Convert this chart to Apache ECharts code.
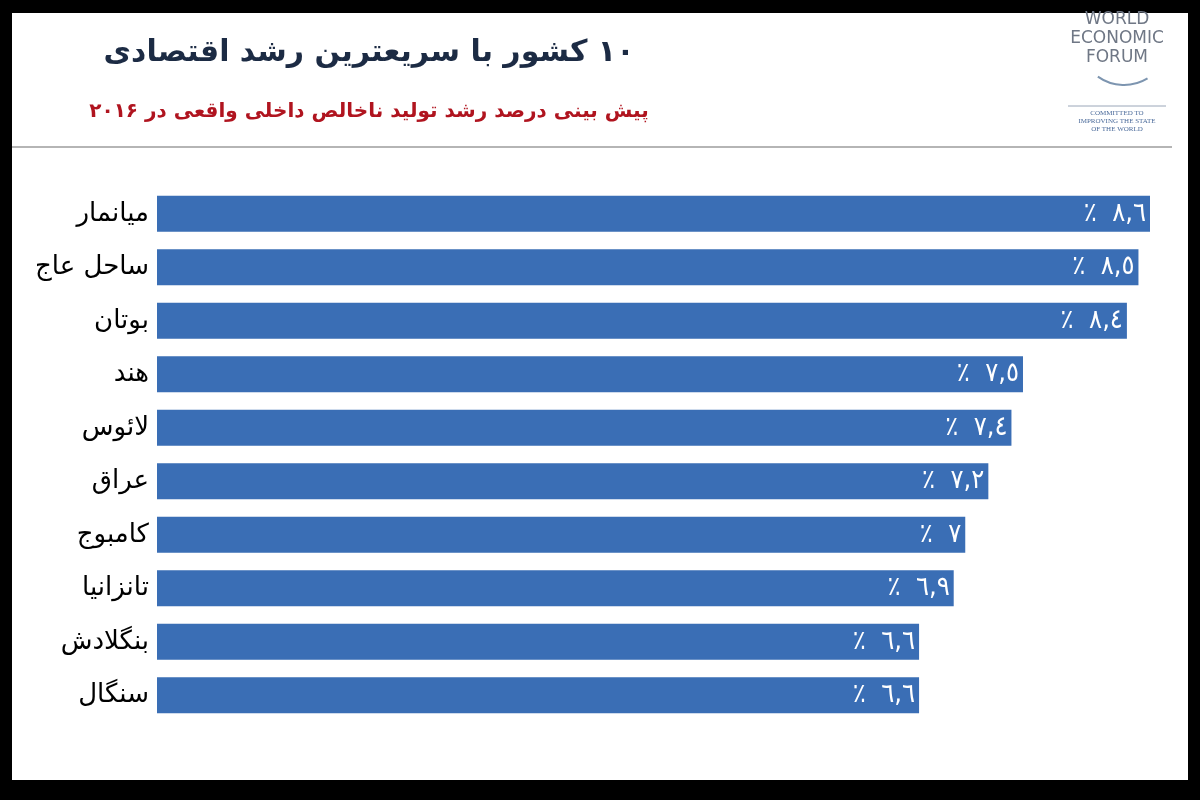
<!DOCTYPE html>
<html>
<head>
<meta charset="utf-8">
<script src="https://cdn.jsdelivr.net/npm/echarts@6/dist/echarts.min.js"></script>
<style>
html,body{margin:0;padding:0;background:#000;}
#chart{width:1200px;height:800px;}
</style>
</head>
<body>
<div id="chart" dir="rtl"></div>
<script>
const countries = ['میانمار','ساحل عاج','بوتان','هند','لائوس','عراق','کامبوج','تانزانیا','بنگلادش','سنگال'];
const growth = [8.6, 8.5, 8.4, 7.5, 7.4, 7.2, 7.0, 6.9, 6.6, 6.6];
const titleText = '۱۰ کشور با سریعترین رشد اقتصادی';
const subtitleText = 'پیش بینی درصد رشد تولید ناخالص داخلی واقعی در ۲۰۱۶';
const logoLines = ['WORLD','ECONOMIC','FORUM'];
const logoTagline = ['COMMITTED TO','IMPROVING THE STATE','OF THE WORLD'];

const arabicDigits = '٠١٢٣٤٥٦٧٨٩';
function toArabic(v){
  return String(v).replace(/[0-9]/g, d => arabicDigits[+d]).replace('.', ',');
}

const chart = echarts.init(document.getElementById('chart'), null, {renderer:'canvas'});
const FONT = '"DejaVu Sans", sans-serif';

const graphics = [
  {type:'rect', z:-10, shape:{x:12,y:13,width:1176,height:767}, style:{fill:'#ffffff'}},
  {type:'line', shape:{x1:12,y1:147,x2:1172,y2:147}, style:{stroke:'#b5b5b5', lineWidth:2}},
  {type:'text', x:369, y:53, style:{text:titleText, fill:'#1c2b44', font:'bold 30px ' + FONT, textAlign:'center', textVerticalAlign:'middle'}},
  {type:'text', x:369, y:112, style:{text:subtitleText, fill:'#b0141f', font:'bold 20px ' + FONT, textAlign:'center', textVerticalAlign:'middle'}},
  {type:'arc', shape:{cx:1124, cy:40, r:45, startAngle:Math.PI/2 - 0.55, endAngle:Math.PI/2 + 0.62}, style:{stroke:'#7d95b0', lineWidth:2, fill:null}},
  {type:'line', shape:{x1:1068,y1:106,x2:1166,y2:106}, style:{stroke:'#9aa6b8', lineWidth:1}}
];
logoLines.forEach((t,i)=>{
  graphics.push({type:'text', x:1117, y:20 + i*19, style:{text:t, fill:'#6f7785', font:'17px ' + FONT, textAlign:'center', textVerticalAlign:'middle'}});
});
logoTagline.forEach((t,i)=>{
  graphics.push({type:'text', x:1117, y:113 + i*8, style:{text:t, fill:'#4a6a9a', font:'7px "Liberation Serif", serif', textAlign:'center', textVerticalAlign:'middle'}});
});

chart.setOption({
  backgroundColor:'#000000',
  animation:false,
  grid:{left:157, right:50, top:187, height:535, containLabel:false},
  xAxis:{type:'value', min:0, max:8.6, show:false},
  yAxis:{
    type:'category', data:countries, inverse:true,
    axisLine:{show:false}, axisTick:{show:false},
    axisLabel:{color:'#000', fontSize:26, fontFamily:FONT, margin:8}
  },
  series:[{
    type:'bar', data:growth, barWidth:36,
    itemStyle:{color:'#3a6eb5'},
    label:{show:true, position:'insideRight', distance:4, color:'#ffffff', fontSize:27,
      fontFamily:'"DejaVu Sans Condensed", "DejaVu Sans", sans-serif',
      formatter:p => toArabic(p.value) + '  ٪'}
  }],
  graphic:graphics
});
</script>
</body>
</html>
